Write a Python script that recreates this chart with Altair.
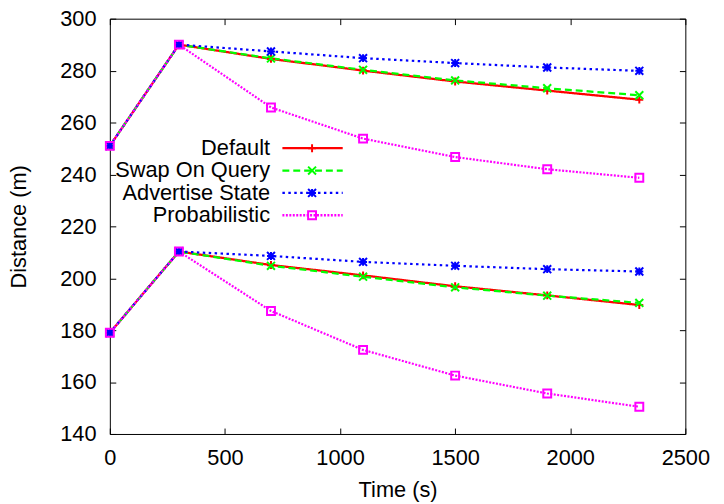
import altair as alt
import pandas as pd

# ---- data ----
x_vals = [0, 300, 700, 1100, 1500, 1900, 2300]
series_names = ["Default", "Swap On Query", "Advertise State", "Probabilistic"]

default_hi = [251.0, 290.0, 284.5, 280.0, 275.8, 272.3, 268.8]
swap_hi = [251.0, 290.0, 284.7, 280.3, 276.2, 273.2, 270.5]
advertise_hi = [251.0, 290.0, 287.4, 284.8, 282.9, 281.2, 279.9]
prob_hi = [251.0, 290.0, 265.8, 253.8, 246.7, 242.0, 238.7]

default_lo = [179.0, 210.3, 205.1, 201.1, 196.9, 193.4, 189.7]
swap_lo = [179.0, 210.3, 204.8, 200.6, 196.5, 193.3, 190.5]
advertise_lo = [179.0, 210.3, 208.6, 206.3, 204.8, 203.5, 202.6]
prob_lo = [179.0, 210.3, 187.4, 172.4, 162.5, 155.6, 150.5]

x_ticks = [0, 500, 1000, 1500, 2000, 2500]
y_ticks = [140, 160, 180, 200, 220, 240, 260, 280, 300]

# ---- styles ----
colors = ["#ff0000", "#00ff00", "#0000ff", "#ff00ff"]
dashes = [[1, 0], [7, 4], [2.5, 3.5], [2, 1.5]]
widths = [2.3, 2.2, 2.5, 1.5]
shapes = [
    "M-1,0H1M0,-1V1",
    "M-1,-1L1,1M-1,1L1,-1",
    "M-1,0H1M0,-1V1M-1,-1L1,1M-1,1L1,-1",
    "square",
]
FONT = "Liberation Sans"
FS = 22
LEG_Y = 120
ROW_PAD = 0.6

rows = []
for name, hi, lo in zip(series_names,
                        [default_hi, swap_hi, advertise_hi, prob_hi],
                        [default_lo, swap_lo, advertise_lo, prob_lo]):
    for grp, ys in (("hi", hi), ("lo", lo)):
        for xv, yv in zip(x_vals, ys):
            rows.append({"series": name, "group": name + grp, "time": xv, "dist": yv})
df = pd.DataFrame(rows)

xs = alt.Scale(domain=[0, 2500], nice=False, zero=False)
ys_ = alt.Scale(domain=[140, 300], nice=False, zero=False)

color_scale = alt.Scale(domain=series_names, range=colors)

# line samples (labels hidden)
line_legend = alt.Legend(
    orient="none", legendX=173, legendY=LEG_Y, title=None,
    symbolType="stroke", symbolSize=3721, symbolStrokeWidth=2.3,
    labelOffset=0, labelFontSize=FS, labelFont=FONT,
    labelColor="transparent", labelLimit=400, padding=0, rowPadding=ROW_PAD, clipHeight=22,
)
# markers in the middle of the samples (labels hidden)
point_legend = alt.Legend(
    orient="none", legendX=193.5, legendY=LEG_Y, title=None,
    symbolSize=64, symbolStrokeWidth=2, symbolFillColor="transparent",
    labelOffset=0, labelFontSize=FS, labelFont=FONT, labelColor="transparent",
    labelLimit=400, padding=0, rowPadding=ROW_PAD, clipHeight=22,
)
# right-aligned text to the left of the samples (symbols hidden)
text_legend = alt.Legend(
    orient="none", legendX=140, legendY=LEG_Y, title=None,
    symbolSize=16, symbolStrokeWidth=0, symbolOpacity=0,
    labelAlign="right", labelOffset=0, labelFontSize=FS, labelFont=FONT,
    labelColor="black", labelLimit=400, padding=0, rowPadding=ROW_PAD, clipHeight=22,
)

lines = alt.Chart(df).mark_line().encode(
    x=alt.X("time:Q", scale=xs, axis=alt.Axis(
        orient="bottom", values=x_ticks, format="d", ticks=False, domain=False, grid=False,
        labelPadding=14, labelFontSize=FS, labelFont=FONT, labelColor="black",
        labelFlush=False, labelOverlap=False,
        title="Time (s)", titleFont=FONT, titleFontSize=FS, titleFontWeight="normal",
        titleColor="black", titleX=291, titleY=63, titleBaseline="alphabetic",
        titleAlign="center")),
    y=alt.Y("dist:Q", scale=ys_, axis=alt.Axis(
        orient="left", values=y_ticks, format="d", ticks=False, domain=False, grid=False,
        labelPadding=14, labelFontSize=FS, labelFont=FONT, labelColor="black",
        labelFlush=False, labelOverlap=False,
        title="Distance (m)", titleFont=FONT, titleFontSize=FS, titleFontWeight="normal",
        titleColor="black", titleX=-85, titleY=210, titleAngle=270,
        titleBaseline="alphabetic", titleAlign="center")),
    color=alt.Color("series:N", scale=color_scale, legend=line_legend),
    strokeDash=alt.StrokeDash("series:N", scale=alt.Scale(domain=series_names, range=dashes),
                              legend=line_legend),
    strokeWidth=alt.StrokeWidth("series:N", scale=alt.Scale(domain=series_names, range=widths),
                                legend=None),
    detail="group:N",
)

points = alt.Chart(df).mark_point(filled=False, size=64, strokeWidth=2, opacity=1).encode(
    x=alt.X("time:Q", scale=xs, axis=alt.Axis(
        orient="bottom", offset=-6, values=x_ticks, labels=False, domain=False,
        grid=False, tickSize=6, tickColor="black", title=None)),
    y=alt.Y("dist:Q", scale=ys_, axis=alt.Axis(
        orient="left", offset=-6, values=y_ticks, labels=False, domain=False,
        grid=False, tickSize=6, tickColor="black", title=None)),
    color=alt.Color("series:N", scale=color_scale, legend=point_legend),
    shape=alt.Shape("series:N", scale=alt.Scale(domain=series_names, range=shapes),
                    legend=point_legend),
)

mirror = alt.Chart(df).mark_point(opacity=0).encode(
    x=alt.X("time:Q", scale=xs, axis=alt.Axis(
        orient="top", offset=-6, values=x_ticks, labels=False, domain=False,
        grid=False, tickSize=6, tickColor="black", title=None)),
    y=alt.Y("dist:Q", scale=ys_, axis=alt.Axis(
        orient="right", offset=-6, values=y_ticks, labels=False, domain=False,
        grid=False, tickSize=6, tickColor="black", title=None)),
    color=alt.Color("series:N", scale=color_scale, legend=text_legend),
)

chart = alt.layer(lines, points, mirror).resolve_scale(
    color="independent", shape="independent", strokeDash="independent"
).resolve_axis(
    x="independent", y="independent"
).properties(
    width=582, height=420,
    autosize=alt.AutoSizeParams(type="none"),
    padding={"left": 103, "top": 8, "right": 31, "bottom": 68},
    background="white",
).configure_view(stroke="black", strokeWidth=1)

chart.save("out.html", embed_options={"renderer": "svg", "actions": False})
